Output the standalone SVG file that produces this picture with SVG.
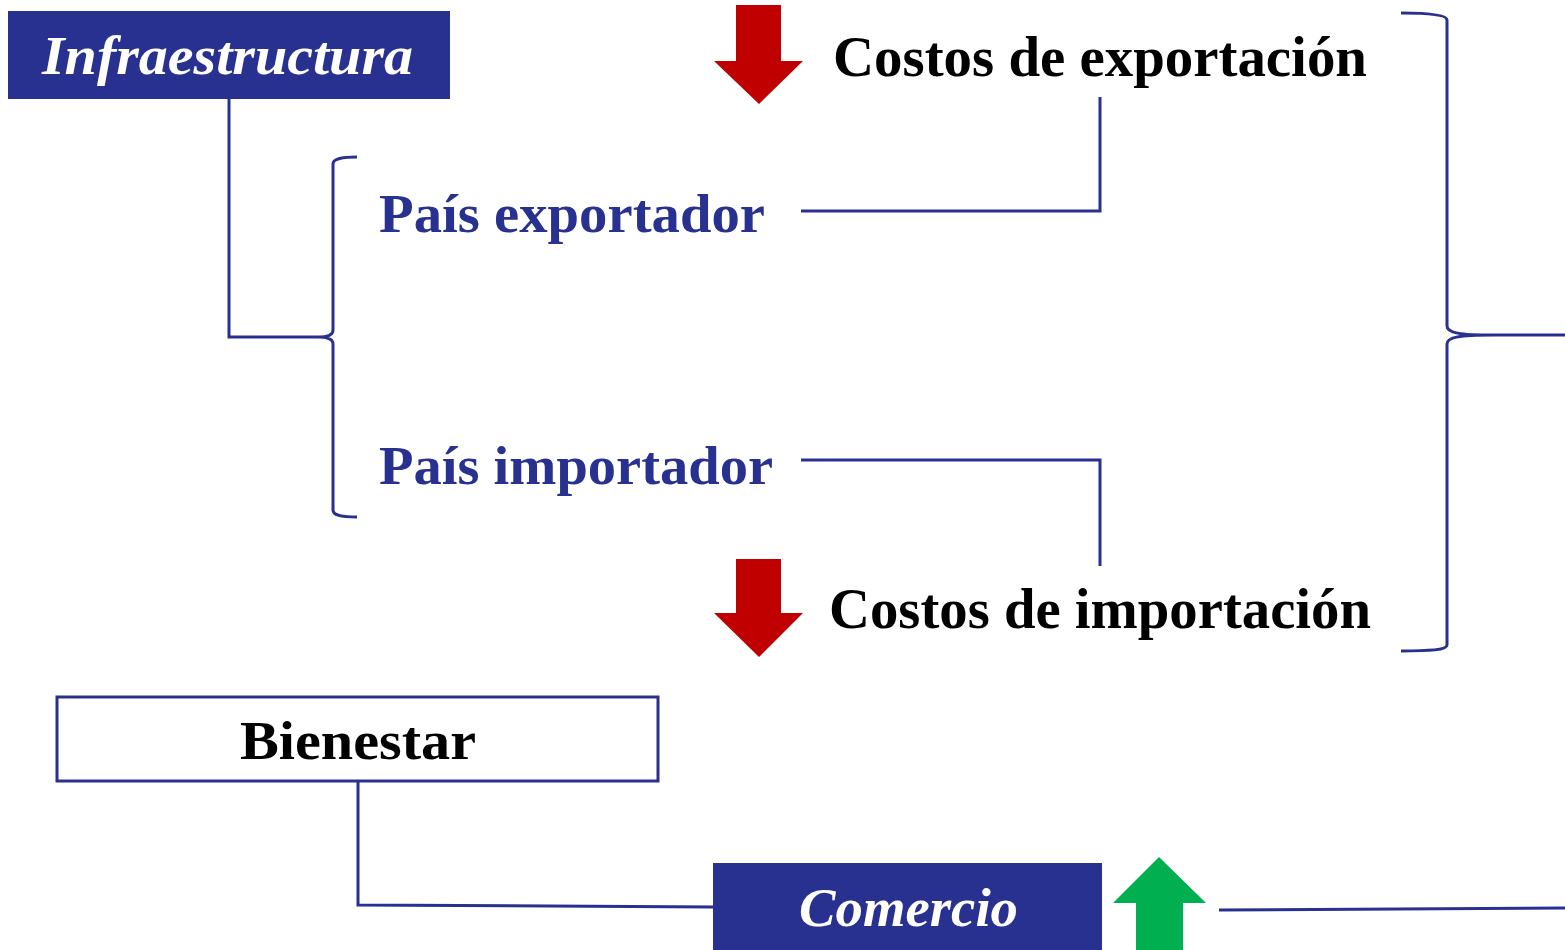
<svg xmlns="http://www.w3.org/2000/svg" width="1565" height="950" viewBox="0 0 1565 950">
<style>
.ln{fill:none;stroke:#283090;stroke-width:3}
.t{font-family:"Liberation Serif","DejaVu Serif",serif;font-weight:bold}
.blk{fill:#000}
.blu{fill:#283090}
.wht{fill:#fff;font-style:italic}
</style>
<rect width="1565" height="950" fill="#fff"/>
<g id="connectors">
<path class="ln" d="M229,99 V337 H318"/>
<path class="ln" d="M357,157 C340,157 333,159 333,164 V330 C333,335 327,337 318,337 C327,337 333,339 333,344 V510 C333,515 340,517 357,517"/>
<path class="ln" d="M801,211 H1100 V97"/>
<path class="ln" d="M801,460 H1100 V566"/>
<path class="ln" d="M1401,13 C1430,13 1447,15 1447,20 V326 C1447,333 1460,335 1493,335 C1460,335 1447,337 1447,344 V645 C1447,650 1430,651 1401,651"/>
<path class="ln" d="M1493,335 H1565"/>
<path class="ln" d="M358,781 V905 L713,907"/>
<path class="ln" d="M1219,910 L1565,908"/>
</g>
<g id="infraestructura">
<rect x="8" y="11" width="442" height="88" fill="#283090"/>
<text class="t wht" x="42" y="74" font-size="54" textLength="371" lengthAdjust="spacingAndGlyphs">Infraestructura</text>
</g>
<g id="arrow-export">
<polygon points="736,5 781,5 781,61 803,61 759,104 714,61 736,61" fill="#C00000"/>
</g>
<g id="costos-export">
<text class="t blk" x="833" y="76" font-size="57" textLength="534" lengthAdjust="spacingAndGlyphs">Costos de exportación</text>
</g>
<g id="pais-exportador">
<text class="t blu" x="379" y="232" font-size="55" textLength="386" lengthAdjust="spacingAndGlyphs">País exportador</text>
</g>
<g id="pais-importador">
<text class="t blu" x="379" y="484" font-size="55" textLength="394" lengthAdjust="spacingAndGlyphs">País importador</text>
</g>
<g id="arrow-import">
<polygon points="736,559 781,559 781,613 803,613 759,657 714,613 736,613" fill="#C00000"/>
</g>
<g id="costos-import">
<text class="t blk" x="829" y="628" font-size="57" textLength="542" lengthAdjust="spacingAndGlyphs">Costos de importación</text>
</g>
<g id="bienestar">
<rect x="57" y="697" width="601" height="84" fill="#fff" stroke="#283090" stroke-width="3"/>
<text class="t blk" x="240" y="759" font-size="54" textLength="236" lengthAdjust="spacingAndGlyphs">Bienestar</text>
</g>
<g id="comercio">
<rect x="713" y="863" width="389" height="90" fill="#283090"/>
<text class="t wht" x="799" y="926" font-size="54" textLength="219" lengthAdjust="spacingAndGlyphs">Comercio</text>
</g>
<g id="arrow-comercio">
<polygon points="1159,857 1206,903 1183,903 1183,950 1136,950 1136,903 1113,903" fill="#00B050"/>
</g>
</svg>
